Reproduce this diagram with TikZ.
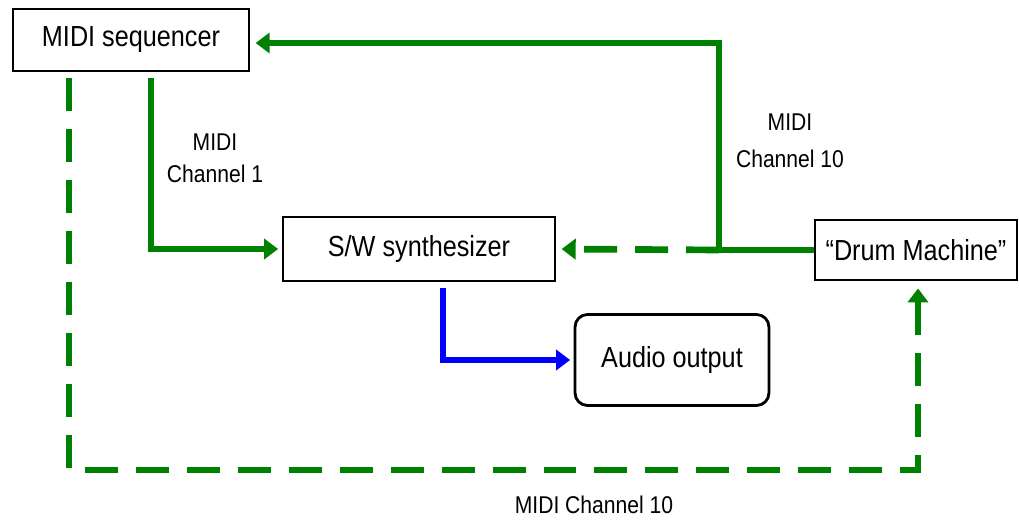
\documentclass[tikz,border=0pt]{standalone}
\usepackage{fontspec}
\newfontfamily\diagfont{Liberation Sans}[FakeStretch=0.87]
\usetikzlibrary{arrows.meta}
\definecolor{midigreen}{RGB}{0,128,0}
\definecolor{audioblue}{RGB}{0,0,255}

\begin{document}
\begin{tikzpicture}[x=0.02cm, y=-0.02cm,
	box/.style={draw, line width=1.6pt, inner sep=0pt, font=\diagfont\fontsize{16.5}{20}\selectfont},
	chan/.style={align=center, font=\diagfont\fontsize{13.8}{18}\selectfont},
	link/.style={line width=3.8pt, -{Triangle[length=8pt,width=11.5pt]}},
	midi/.style={link, midigreen},
	dashlink/.style={midi, dash pattern=on 0.66cm off 0.36cm}]
	\useasboundingbox (0,0) rectangle (1019,520);
	% boxes
	\node[box, minimum width=4.72cm, minimum height=1.24cm] (seq) at (131,40) {MIDI sequencer};
	\node[box, minimum width=5.44cm, minimum height=1.28cm] (synth) at (419,249) {S/W synthesizer};
	\node[box, minimum width=4.04cm, minimum height=1.2cm] (drum) at (916,250) {“Drum Machine”};
	\node[box, rounded corners=0.25cm, minimum width=3.88cm, minimum height=1.82cm] (audio) at (672,360) {Audio output};
	% bend points
	\coordinate (ch1x) at (151,0);
	\coordinate (tee) at (719,250);
	\coordinate (topc) at (719,43);
	\coordinate (botl) at (69,470);
	\coordinate (botr) at (918,470);
	\coordinate (outx) at (443,0);
	% arrows
	\draw[midi, shorten <=3pt, shorten >=2pt] (seq.south -| ch1x) |- (synth.west);
	\draw[midi, shorten >=3pt] (drum.west) -| (topc) -- (seq.east |- topc);
	\draw[dashlink, shorten >=3pt] (tee) -- (synth.east);
	\draw[dashlink, shorten <=3pt, shorten >=4pt] (seq.south -| botl) -- (botl) -- (botr) -- (drum.south -| botr);
	\draw[link, audioblue, shorten <=3pt, shorten >=2pt] (synth.south -| outx) |- (audio.west);
	% labels
	\node[chan] (ch1) at (215,158) {MIDI\\Channel 1};
	\node[chan] (ch10) at (790,141) {MIDI\\[3pt]Channel 10};
	\node[chan] (chbot) at (594,505) {MIDI Channel 10};
\end{tikzpicture}
\end{document}
